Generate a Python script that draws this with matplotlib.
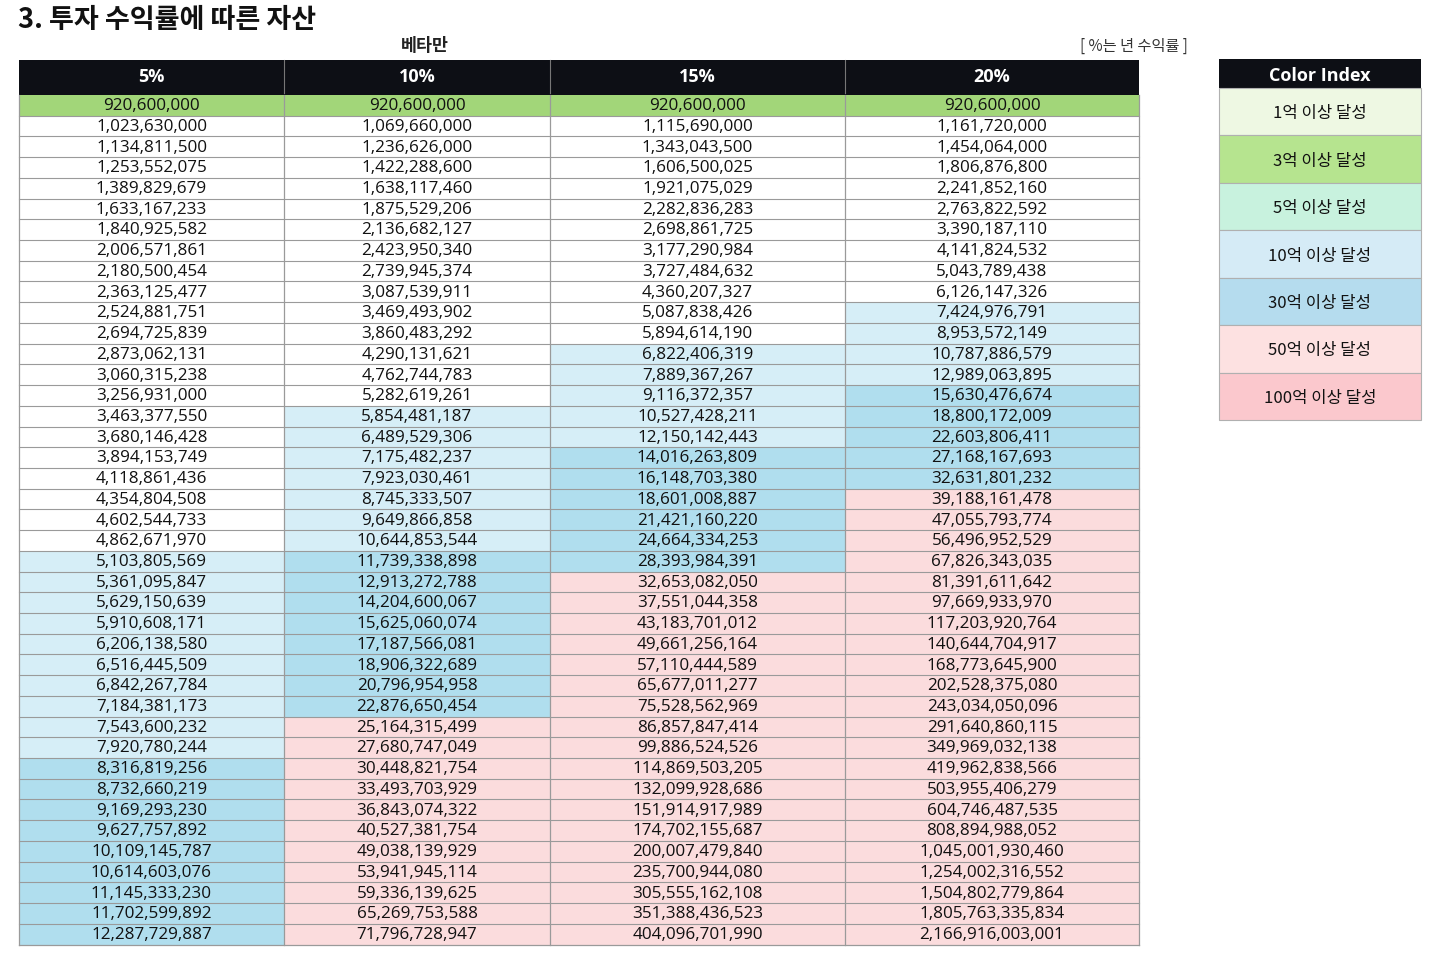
import matplotlib
matplotlib.use("Agg")
import matplotlib.pyplot as plt
from matplotlib.patches import Rectangle

plt.rcParams['font.family'] = ['Noto Sans CJK KR', 'DejaVu Sans']

# ---------------- data ----------------
title = "3. 투자 수익률에 따른 자산"
subtitle = "베타만"
note = "[ %는 년 수익률 ]"
columns = ["5%", "10%", "15%", "20%"]

col_5 = [920600000, 1023630000, 1134811500, 1253552075, 1389829679, 1633167233,
         1840925582, 2006571861, 2180500454, 2363125477, 2524881751, 2694725839,
         2873062131, 3060315238, 3256931000, 3463377550, 3680146428, 3894153749,
         4118861436, 4354804508, 4602544733, 4862671970, 5103805569, 5361095847,
         5629150639, 5910608171, 6206138580, 6516445509, 6842267784, 7184381173,
         7543600232, 7920780244, 8316819256, 8732660219, 9169293230, 9627757892,
         10109145787, 10614603076, 11145333230, 11702599892, 12287729887]
col_10 = [920600000, 1069660000, 1236626000, 1422288600, 1638117460, 1875529206,
          2136682127, 2423950340, 2739945374, 3087539911, 3469493902, 3860483292,
          4290131621, 4762744783, 5282619261, 5854481187, 6489529306, 7175482237,
          7923030461, 8745333507, 9649866858, 10644853544, 11739338898, 12913272788,
          14204600067, 15625060074, 17187566081, 18906322689, 20796954958, 22876650454,
          25164315499, 27680747049, 30448821754, 33493703929, 36843074322, 40527381754,
          49038139929, 53941945114, 59336139625, 65269753588, 71796728947]
col_15 = [920600000, 1115690000, 1343043500, 1606500025, 1921075029, 2282836283,
          2698861725, 3177290984, 3727484632, 4360207327, 5087838426, 5894614190,
          6822406319, 7889367267, 9116372357, 10527428211, 12150142443, 14016263809,
          16148703380, 18601008887, 21421160220, 24664334253, 28393984391, 32653082050,
          37551044358, 43183701012, 49661256164, 57110444589, 65677011277, 75528562969,
          86857847414, 99886524526, 114869503205, 132099928686, 151914917989, 174702155687,
          200007479840, 235700944080, 305555162108, 351388436523, 404096701990]
col_20 = [920600000, 1161720000, 1454064000, 1806876800, 2241852160, 2763822592,
          3390187110, 4141824532, 5043789438, 6126147326, 7424976791, 8953572149,
          10787886579, 12989063895, 15630476674, 18800172009, 22603806411, 27168167693,
          32631801232, 39188161478, 47055793774, 56496952529, 67826343035, 81391611642,
          97669933970, 117203920764, 140644704917, 168773645900, 202528375080, 243034050096,
          291640860115, 349969032138, 419962838566, 503955406279, 604746487535, 808894988052,
          1045001930460, 1254002316552, 1504802779864, 1805763335834, 2166916003001]
values = [col_5, col_10, col_15, col_20]

# number of rows in each shading band per column: start, plain, light blue, blue, pink
band_names = ["start", "plain", "lightblue", "blue", "pink"]
band_counts = [
    [1, 21, 10, 9, 0],
    [1, 14, 7, 8, 11],
    [1, 11, 5, 6, 18],
    [1, 9, 4, 5, 22],
]

legend_labels = ["1억 이상 달성", "3억 이상 달성", "5억 이상 달성", "10억 이상 달성",
                 "30억 이상 달성", "50억 이상 달성", "100억 이상 달성"]

# ---------------- style ----------------
band_colors = {"start": "#a2d679", "plain": "#ffffff", "lightblue": "#d6eef7",
               "blue": "#b0deee", "pink": "#fbdcdd"}
legend_colors = ["#eef8e3", "#b6e48f", "#c8f2de", "#d5ebf6", "#b5dcee", "#fde1e1", "#fbc8cd"]
header_color = "#0d0f15"
grid_color = "#9a9a9a"
num_font = ["Open Sans", "DejaVu Sans"]

W, H = 1436, 956
fig = plt.figure(figsize=(W / 100, H / 100), dpi=100)
ax = fig.add_axes([0, 0, 1, 1])
ax.set_xlim(0, W)
ax.set_ylim(H, 0)
ax.axis("off")

# titles
ax.text(18, 20, title, fontsize=19.5, fontweight="bold", ha="left", va="center", color="#111111")
ax.text(425, 46, subtitle, fontsize=12.5, fontweight="bold", ha="center", va="center", color="#222222")
ax.text(1188, 46, note, fontsize=11, ha="right", va="center", color="#333333")

# table geometry
col_edges = [19, 284, 550, 845, 1139]
head_top, head_bot = 60, 93
row_top, row_bot = 95, 944.5
n_rows = len(col_5)
rh = (row_bot - row_top) / n_rows

# header
for j, name in enumerate(columns):
    x0, x1 = col_edges[j], col_edges[j + 1]
    ax.add_patch(Rectangle((x0, head_top), x1 - x0, row_top - head_top,
                           facecolor=header_color, edgecolor="none"))
    ax.text((x0 + x1) / 2, (head_top + head_bot) / 2, name, color="white",
            fontsize=13, fontweight="bold", ha="center", va="center", family=num_font)
    if j > 0:
        ax.plot([x0, x0], [head_top, head_bot], color="#777777", lw=0.8)

# cells
for j, col in enumerate(values):
    x0, x1 = col_edges[j], col_edges[j + 1]
    cats = []
    for name, cnt in zip(band_names, band_counts[j]):
        cats += [name] * cnt
    for i, v in enumerate(col):
        y0 = row_top + i * rh
        ax.add_patch(Rectangle((x0, y0), x1 - x0, rh, facecolor=band_colors[cats[i]],
                               edgecolor="none"))
        ax.text((x0 + x1) / 2, y0 + rh / 2 + 0.8, f"{v:,}", fontsize=12.3,
                ha="center", va="center", color="#111111", family=num_font)

# grid lines
for i in range(1, n_rows):
    y = row_top + i * rh
    ax.plot([col_edges[0], col_edges[-1]], [y, y], color=grid_color, lw=0.8)
for x in col_edges:
    ax.plot([x, x], [row_top, row_bot], color=grid_color, lw=0.9)
ax.plot([col_edges[0], col_edges[-1]], [row_bot, row_bot], color=grid_color, lw=0.9)

# color index legend
lx0, lx1 = 1219, 1421
l_head_top, l_head_bot = 59, 88
l_bot = 420
lh = (l_bot - l_head_bot) / len(legend_labels)
ax.add_patch(Rectangle((lx0, l_head_top), lx1 - lx0, l_head_bot - l_head_top,
                       facecolor=header_color, edgecolor="none"))
ax.text((lx0 + lx1) / 2, (l_head_top + l_head_bot) / 2 + 2, "Color Index", color="white",
        fontsize=13, fontweight="bold", ha="center", va="center", family=num_font)
for k, (lab, c) in enumerate(zip(legend_labels, legend_colors)):
    y0 = l_head_bot + k * lh
    ax.add_patch(Rectangle((lx0, y0), lx1 - lx0, lh, facecolor=c, edgecolor="#b0b0b0", lw=0.8))
    ax.text((lx0 + lx1) / 2, y0 + lh / 2 + 2, lab, fontsize=12, ha="center", va="center",
            color="#111111")

fig.savefig("out.png", dpi=100, facecolor="white")
